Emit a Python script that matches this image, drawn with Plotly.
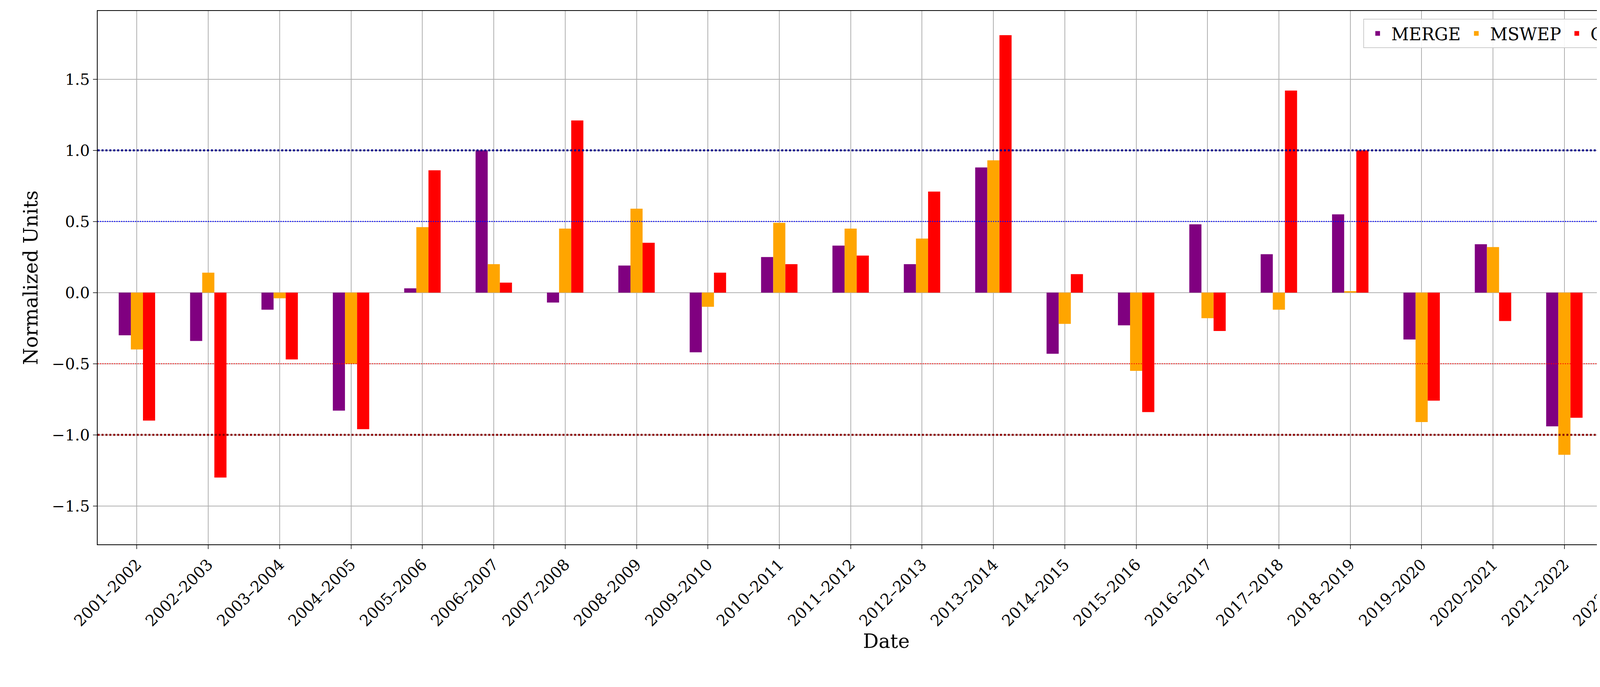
import plotly.graph_objects as go

categories = ["2001–2002","2002–2003","2003–2004","2004–2005","2005–2006","2006–2007","2007–2008","2008–2009","2009–2010","2010–2011","2011–2012","2012–2013","2013–2014","2014–2015","2015–2016","2016–2017","2017–2018","2018–2019","2019–2020","2020–2021","2021–2022","2022–2023"]
merge = [-0.30,-0.34,-0.12,-0.83,0.03,1.00,-0.07,0.19,-0.42,0.25,0.33,0.20,0.88,-0.43,-0.23,0.48,0.27,0.55,-0.33,0.34,-0.94,-0.50]
mswep = [-0.40,0.14,-0.04,-0.50,0.46,0.20,0.45,0.59,-0.10,0.49,0.45,0.38,0.93,-0.22,-0.55,-0.18,-0.12,0.01,-0.91,0.32,-1.14,-0.26]
glofas = [-0.90,-1.30,-0.47,-0.96,0.86,0.07,1.21,0.35,0.14,0.20,0.26,0.71,1.81,0.13,-0.84,-0.27,1.42,1.00,-0.76,-0.20,-0.88,-1.59]
series = [("MERGE", merge, "purple"), ("MSWEP", mswep, "orange"), ("GLOFAS", glofas, "red")]
ref_lines = [(1.0, "darkblue", 5), (0.5, "blue", 2.5), (-0.5, "red", 2), (-1.0, "darkred", 5)]

fig = go.Figure()
w = 0.17
x = list(range(len(categories)))
for i, (name, vals, col) in enumerate(series):
    fig.add_trace(go.Bar(x=[v + (i - 1) * w for v in x], y=vals, width=w, name=name, marker_color=col, marker_line_width=0))
for y, c, lw in ref_lines:
    fig.add_shape(type="line", xref="paper", x0=0, x1=1, y0=y, y1=y, line=dict(color=c, width=lw, dash="dot"))

font = dict(family="DejaVu Serif", size=40, color="black")
fig.update_layout(
    width=4300, height=1720, plot_bgcolor="white", paper_bgcolor="white", font=font,
    margin=dict(l=242, r=20, t=20, b=335), showlegend=True,
    legend=dict(orientation="h", x=0.995, y=0.985, xanchor="right", yanchor="top", bordercolor="#cccccc", borderwidth=2,
                font=dict(family="DejaVu Serif", size=44), itemwidth=60, bgcolor="rgba(255,255,255,0.9)"),
)
fig.update_xaxes(tickmode="array", tickvals=x, ticktext=categories, tickangle=-45, range=[-0.55, 21.55],
                 showgrid=True, gridcolor="#b0b0b0", gridwidth=2, showline=True, mirror=True, linecolor="black", linewidth=2,
                 ticks="outside", ticklen=10, tickwidth=2, title=dict(text="Date", font=dict(size=50), standoff=10))
fig.update_yaxes(range=[-1.77, 1.98], tickvals=[-1.5,-1,-0.5,0,0.5,1,1.5], ticktext=["−1.5","−1.0","−0.5","0.0","0.5","1.0","1.5"],
                 showgrid=True, gridcolor="#b0b0b0", gridwidth=2, zeroline=False, showline=True, mirror=True, linecolor="black", linewidth=2,
                 ticks="outside", ticklen=10, tickwidth=2, title=dict(text="Normalized Units", font=dict(size=50), standoff=20))
fig.write_html("out.html")
